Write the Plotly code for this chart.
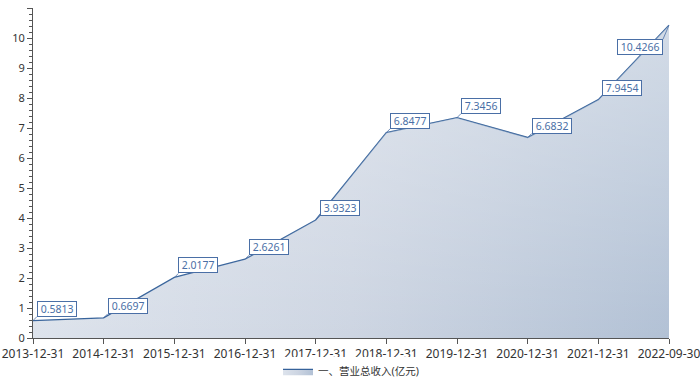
import plotly.graph_objects as go

categories = ["2013-12-31", "2014-12-31", "2015-12-31", "2016-12-31", "2017-12-31",
              "2018-12-31", "2019-12-31", "2020-12-31", "2021-12-31", "2022-09-30"]
revenue = [0.5813, 0.6697, 2.0177, 2.6261, 3.9323, 6.8477, 7.3456, 6.6832, 7.9454, 10.4266]
series_name = "一、营业总收入(亿元)"

line_color = "#36629a"
label_color = "#4a6fa6"
font_family = "Noto Sans, Noto Sans CJK SC, sans-serif"

fig = go.Figure()
fig.add_trace(go.Scatter(
    x=categories, y=revenue, mode="lines", name=series_name,
    line=dict(color=line_color, width=1.3),
    fill="tozeroy",
    fillgradient=dict(type="horizontal",
                      colorscale=[[0, "#dde3ec"], [0.5, "#cdd5e2"], [1, "#b2c1d5"]]),
))
# soft white highlight towards the top for a diagonal feel
fig.add_trace(go.Scatter(
    x=categories, y=revenue, mode="lines", showlegend=False, hoverinfo="skip",
    line=dict(width=0),
    fill="tozeroy",
    fillgradient=dict(type="vertical", start=0, stop=11,
                      colorscale=[[0, "rgba(255,255,255,0)"], [1, "rgba(255,255,255,0.45)"]]),
))

annotations = []
last = len(categories) - 1
for i, (c, v) in enumerate(zip(categories, revenue)):
    if i == last:
        ax, ay, xa, ya = -6, 14, "right", "top"
    else:
        ax, ay, xa, ya = 4, -4, "left", "bottom"
    annotations.append(dict(
        x=c, y=v, xref="x", yref="y", text="\u00a0" + str(v) + "\u00a0",
        showarrow=True, arrowhead=0, arrowwidth=0.8, arrowcolor=label_color,
        ax=ax, ay=ay, axref="pixel", ayref="pixel", xanchor=xa, yanchor=ya,
        bgcolor="white", bordercolor=label_color, borderwidth=1, borderpad=0,
        font=dict(size=10.5, color=label_color, family=font_family),
    ))

fig.update_layout(
    width=700, height=382,
    margin=dict(l=33, r=31, t=8, b=44, autoexpand=False),
    paper_bgcolor="white", plot_bgcolor="white",
    font=dict(family=font_family, size=12, color="#333"),
    showlegend=True,
    legend=dict(orientation="h", x=0.5, xanchor="center",
                yref="container", y=0.028, yanchor="middle",
                font=dict(size=10.5, color="#333"), itemwidth=30),
    annotations=annotations,
)
fig.update_xaxes(
    type="category", range=[0, last], showgrid=False, automargin=False,
    showline=True, linecolor="#555", linewidth=1,
    ticks="outside", ticklen=5, tickcolor="#555",
    tickfont=dict(size=12, color="#333"),
)
fig.update_yaxes(
    range=[0, 11], dtick=1, showgrid=False, zeroline=False, automargin=False,
    showline=True, linecolor="#555", linewidth=1,
    ticks="outside", ticklen=5, tickcolor="#555",
    minor=dict(dtick=0.2, ticks="outside", ticklen=3, tickcolor="#555", showgrid=False),
    tickfont=dict(size=11, color="#333"),
)

fig.write_html("out.html", config={"displayModeBar": False},
               post_script="document.body.style.margin='0px';")
